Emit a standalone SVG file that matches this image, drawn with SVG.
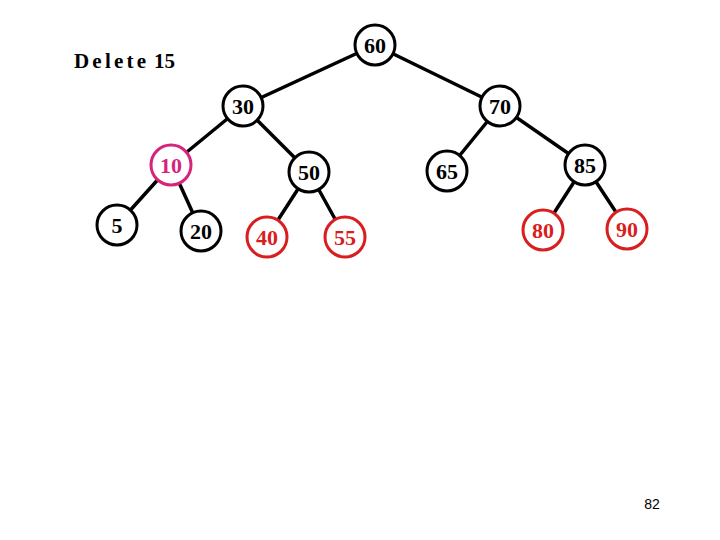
<svg xmlns="http://www.w3.org/2000/svg" width="720" height="540" viewBox="0 0 720 540">
<style>
.e{stroke:#000;stroke-width:3.5;fill:none}
.n circle{fill:#fff;stroke:#000;stroke-width:3}
.n text{font-family:"Liberation Serif",serif;font-weight:bold;font-size:22px;text-anchor:middle;fill:#000}
.r circle{stroke:#d81e1e}
.r text{fill:#d81e1e}
.m circle{stroke:#d6237c}
.m text{fill:#d6237c}
.t{font-family:"Liberation Serif",serif;font-weight:bold;font-size:21px}
</style>
<rect width="720" height="540" fill="#fff"/>
<text class="t" x="74" y="68" letter-spacing="3.2">Delete</text>
<text class="t" x="154" y="68">15</text>
<text x="652" y="509" font-family="Liberation Sans,sans-serif" font-size="14" text-anchor="middle">82</text>
<g id="edges">
<line class="e" x1="375" y1="45" x2="243" y2="106"/>
<line class="e" x1="375" y1="45" x2="500" y2="106"/>
<line class="e" x1="243" y1="106" x2="171" y2="165"/>
<line class="e" x1="243" y1="106" x2="309" y2="172"/>
<line class="e" x1="500" y1="106" x2="447" y2="171"/>
<line class="e" x1="500" y1="106" x2="585" y2="165"/>
<line class="e" x1="171" y1="165" x2="117" y2="225"/>
<line class="e" x1="171" y1="165" x2="201" y2="231"/>
<line class="e" x1="309" y1="172" x2="267" y2="237"/>
<line class="e" x1="309" y1="172" x2="345" y2="237"/>
<line class="e" x1="585" y1="165" x2="543" y2="230"/>
<line class="e" x1="585" y1="165" x2="627" y2="229"/>
</g>
<g id="n60" class="n"><circle cx="375" cy="45" r="20"/><text x="375" y="53">60</text></g>
<g id="n30" class="n"><circle cx="243" cy="106" r="20"/><text x="243" y="114">30</text></g>
<g id="n70" class="n"><circle cx="500" cy="106" r="20"/><text x="500" y="114">70</text></g>
<g id="n10" class="n m"><circle cx="171" cy="165" r="20"/><text x="171" y="173">10</text></g>
<g id="n50" class="n"><circle cx="309" cy="172" r="20"/><text x="309" y="180">50</text></g>
<g id="n65" class="n"><circle cx="447" cy="171" r="20"/><text x="447" y="179">65</text></g>
<g id="n85" class="n"><circle cx="585" cy="165" r="20"/><text x="585" y="173">85</text></g>
<g id="n5" class="n"><circle cx="117" cy="225" r="20"/><text x="117" y="233">5</text></g>
<g id="n20" class="n"><circle cx="201" cy="231" r="20"/><text x="201" y="239">20</text></g>
<g id="n40" class="n r"><circle cx="267" cy="237" r="20"/><text x="267" y="245">40</text></g>
<g id="n55" class="n r"><circle cx="345" cy="237" r="20"/><text x="345" y="245">55</text></g>
<g id="n80" class="n r"><circle cx="543" cy="230" r="20"/><text x="543" y="238">80</text></g>
<g id="n90" class="n r"><circle cx="627" cy="229" r="20"/><text x="627" y="237">90</text></g>
</svg>
